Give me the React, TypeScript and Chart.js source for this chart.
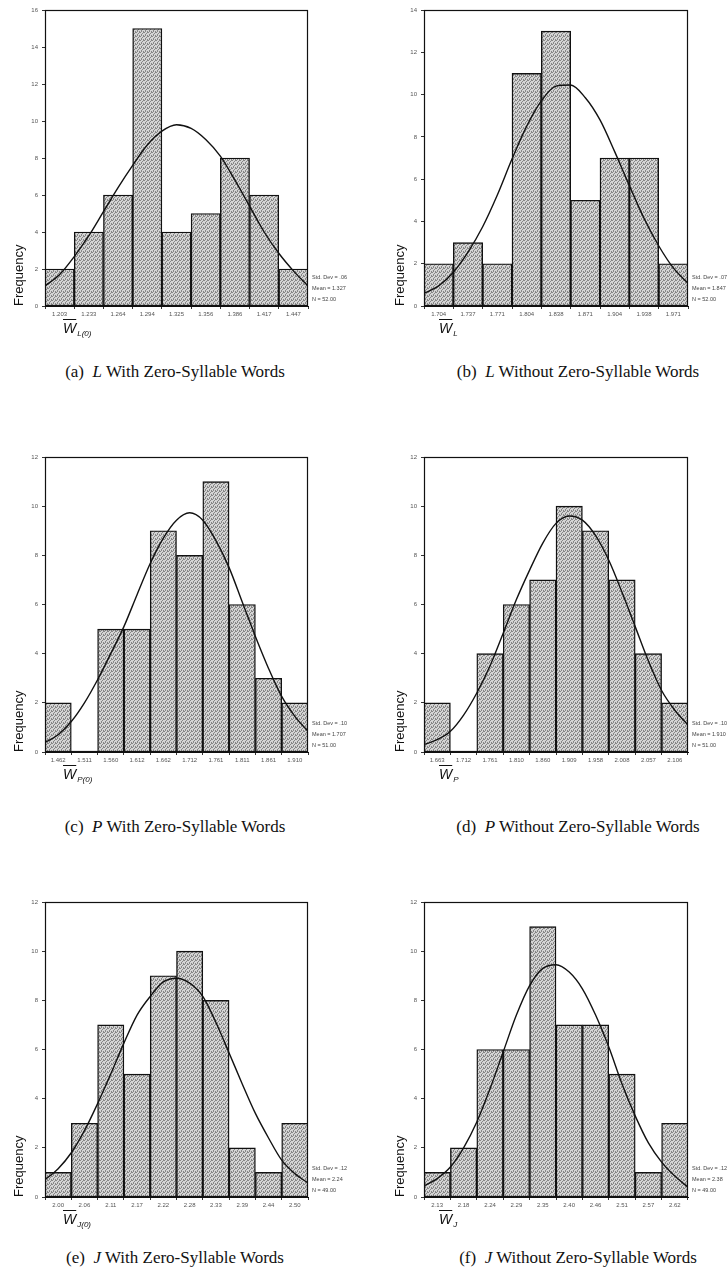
import React, { useEffect, useRef } from "react";
import { Chart, registerables } from "chart.js";

Chart.register(...registerables);

// ---------- Panel (a): L with zero-syllable words ----------
const aTickLabels = ["1.203", "1.233", "1.264", "1.294", "1.325", "1.356", "1.386", "1.417", "1.447"];
const aCounts = [2, 4, 6, 15, 4, 5, 8, 6, 2];
const aCurveX = [-0.5, 0, 0.5, 1, 1.5, 2, 2.5, 3, 3.5, 4, 4.5, 5, 5.5, 6, 6.5, 7, 7.5, 8, 8.5];
const aCurveY = [1.08, 1.7, 2.67, 3.8, 5.1, 6.4, 7.6, 8.7, 9.45, 9.8, 9.6, 9.0, 8.1, 6.8, 5.4, 4.0, 2.85, 1.9, 1.08];
const aStats = ["Std. Dev = .06", "Mean = 1.327", "N = 52.00"];

// ---------- Panel (b): L without zero-syllable words ----------
const bTickLabels = ["1.704", "1.737", "1.771", "1.804", "1.838", "1.871", "1.904", "1.938", "1.971"];
const bCounts = [2, 3, 2, 11, 13, 5, 7, 7, 2];
const bCurveX = [-0.5, 0, 0.5, 1, 1.5, 2, 2.5, 3, 3.5, 4, 4.5, 5, 5.5, 6, 6.5, 7, 7.5, 8, 8.5];
const bCurveY = [0.6, 0.95, 1.6, 2.55, 3.75, 5.25, 6.95, 8.5, 9.7, 10.4, 10.45, 9.85, 8.8, 7.3, 5.7, 4.15, 2.85, 1.8, 1.07];
const bStats = ["Std. Dev = .07", "Mean = 1.847", "N = 52.00"];

// ---------- Panel (c): P with zero-syllable words ----------
const cTickLabels = ["1.462", "1.511", "1.560", "1.612", "1.662", "1.712", "1.761", "1.811", "1.861", "1.910"];
const cCounts = [2, 0, 5, 5, 9, 8, 11, 6, 3, 2];
const cCurveX = [-0.5, 0, 0.5, 1, 1.5, 2, 2.5, 3, 3.5, 4, 4.5, 5, 5.5, 6, 6.5, 7, 7.5, 8, 8.5, 9, 9.5];
const cCurveY = [0.39, 0.7, 1.24, 2.0, 2.94, 4.0, 5.1, 6.4, 7.67, 8.7, 9.43, 9.73, 9.43, 8.6, 7.5, 6.1, 4.7, 3.4, 2.26, 1.45, 0.84];
const cStats = ["Std. Dev = .10", "Mean = 1.707", "N = 51.00"];

// ---------- Panel (d): P without zero-syllable words ----------
const dTickLabels = ["1.663", "1.712", "1.761", "1.810", "1.860", "1.909", "1.958", "2.008", "2.057", "2.106"];
const dCounts = [2, 0, 4, 6, 7, 10, 9, 7, 4, 2];
const dCurveX = [-0.5, 0, 0.5, 1, 1.5, 2, 2.5, 3, 3.5, 4, 4.5, 5, 5.5, 6, 6.5, 7, 7.5, 8, 8.5, 9, 9.5];
const dCurveY = [0.3, 0.5, 0.84, 1.5, 2.4, 3.5, 4.83, 6.2, 7.4, 8.5, 9.3, 9.6, 9.43, 8.8, 7.8, 6.5, 5.1, 3.7, 2.5, 1.7, 1.1];
const dStats = ["Std. Dev = .10", "Mean = 1.910", "N = 51.00"];

// ---------- Panel (e): J with zero-syllable words ----------
const eTickLabels = ["2.00", "2.06", "2.11", "2.17", "2.22", "2.28", "2.33", "2.39", "2.44", "2.50"];
const eCounts = [1, 3, 7, 5, 9, 10, 8, 2, 1, 3];
const eCurveX = [-0.5, 0, 0.5, 1, 1.5, 2, 2.5, 3, 3.5, 4, 4.5, 5, 5.5, 6, 6.5, 7, 7.5, 8, 8.5, 9, 9.5];
const eCurveY = [0.7, 1.15, 1.8, 2.7, 3.8, 5.0, 6.26, 7.4, 8.16, 8.75, 8.9, 8.7, 8.16, 7.1, 5.86, 4.6, 3.4, 2.4, 1.5, 0.95, 0.57];
const eStats = ["Std. Dev = .12", "Mean = 2.24", "N = 49.00"];

// ---------- Panel (f): J without zero-syllable words ----------
const fTickLabels = ["2.13", "2.18", "2.24", "2.29", "2.35", "2.40", "2.46", "2.51", "2.57", "2.62"];
const fCounts = [1, 2, 6, 6, 11, 7, 7, 5, 1, 3];
const fCurveX = [-0.5, 0, 0.5, 1, 1.5, 2, 2.5, 3, 3.5, 4, 4.5, 5, 5.5, 6, 6.5, 7, 7.5, 8, 8.5, 9, 9.5];
const fCurveY = [0.45, 0.75, 1.22, 2.0, 3.05, 4.4, 5.9, 7.4, 8.6, 9.3, 9.45, 9.15, 8.47, 7.4, 6.1, 4.6, 3.3, 2.2, 1.42, 0.85, 0.4];
const fStats = ["Std. Dev = .12", "Mean = 2.38", "N = 49.00"];

const yMaxes = [16, 14, 12, 12, 12, 12];

type PanelSpec = {
  id: string;
  col: 0 | 1;
  areaTop: number;
  areaBottom: number;
  ticks: string[];
  counts: number[];
  curveX: number[];
  curveY: number[];
  stats: string[];
  yMax: number;
  sub: string;
  letter: string;
  kind: string;
  captionY: number;
};

const panels: PanelSpec[] = [
  { id: "a", col: 0, areaTop: 10, areaBottom: 306, ticks: aTickLabels, counts: aCounts, curveX: aCurveX, curveY: aCurveY, stats: aStats, yMax: yMaxes[0], sub: "L(0)", letter: "L", kind: "With", captionY: 372 },
  { id: "b", col: 1, areaTop: 10, areaBottom: 306, ticks: bTickLabels, counts: bCounts, curveX: bCurveX, curveY: bCurveY, stats: bStats, yMax: yMaxes[1], sub: "L", letter: "L", kind: "Without", captionY: 372 },
  { id: "c", col: 0, areaTop: 457, areaBottom: 752, ticks: cTickLabels, counts: cCounts, curveX: cCurveX, curveY: cCurveY, stats: cStats, yMax: yMaxes[2], sub: "P(0)", letter: "P", kind: "With", captionY: 827 },
  { id: "d", col: 1, areaTop: 457, areaBottom: 752, ticks: dTickLabels, counts: dCounts, curveX: dCurveX, curveY: dCurveY, stats: dStats, yMax: yMaxes[3], sub: "P", letter: "P", kind: "Without", captionY: 827 },
  { id: "e", col: 0, areaTop: 902, areaBottom: 1197, ticks: eTickLabels, counts: eCounts, curveX: eCurveX, curveY: eCurveY, stats: eStats, yMax: yMaxes[4], sub: "J(0)", letter: "J", kind: "With", captionY: 1258 },
  { id: "f", col: 1, areaTop: 902, areaBottom: 1197, ticks: fTickLabels, counts: fCounts, curveX: fCurveX, curveY: fCurveY, stats: fStats, yMax: yMaxes[5], sub: "J", letter: "J", kind: "Without", captionY: 1258 },
];

const PAD_TOP = 10;
const X_AXIS_H = 14;
const PAD_BOTTOM = 6;
const SANS = "'Liberation Sans', Arial, sans-serif";
const SERIF = "'Liberation Serif', 'Times New Roman', serif";

function makeStipple(): CanvasPattern | string {
  const c = document.createElement("canvas");
  c.width = 4;
  c.height = 4;
  const g = c.getContext("2d");
  if (!g) return "#c0c0c0";
  g.fillStyle = "#d4d4d4";
  g.fillRect(0, 0, 4, 4);
  g.fillStyle = "#868686";
  const dots = [[0, 0], [2, 1], [1, 2], [3, 3], [3, 0], [1, 3]];
  dots.forEach(([x, y]) => g.fillRect(x, y, 1, 1));
  const p = g.createPattern(c, "repeat");
  return p || "#c0c0c0";
}

const framePlugin = {
  id: "frame",
  afterDraw(chart: any) {
    const { ctx, chartArea } = chart;
    ctx.save();
    ctx.strokeStyle = "#111";
    ctx.lineWidth = 1.2;
    ctx.strokeRect(chartArea.left + 0.5, chartArea.top + 0.5, chartArea.right - chartArea.left - 1, chartArea.bottom - chartArea.top - 1);
    ctx.restore();
  },
};

function Histogram({ p }: { p: PanelSpec }) {
  const ref = useRef<HTMLCanvasElement>(null);
  const colLeft = p.col === 0 ? 0 : 364;
  const yAxisW = p.col === 0 ? 45 : 60;
  const areaRight = p.col === 0 ? 308 : 688 - 364;
  const padRight = 364 - areaRight;
  const areaH = p.areaBottom - p.areaTop;
  const canvasH = PAD_TOP + areaH + X_AXIS_H + PAD_BOTTOM;
  const titlePad = p.col === 0 ? 12 : 29;

  useEffect(() => {
    if (!ref.current) return;
    const stipple = makeStipple();
    const n = p.counts.length;
    const chart = new Chart(ref.current, {
      type: "bar",
      data: {
        datasets: [
          {
            type: "line",
            data: p.curveX.map((x, i) => ({ x, y: p.curveY[i] })),
            borderColor: "#111",
            borderWidth: 1.4,
            pointRadius: 0,
            cubicInterpolationMode: "monotone",
            fill: false,
            order: 0,
          } as any,
          {
            type: "bar",
            data: p.counts.map((c, i) => ({ x: i, y: c })),
            backgroundColor: stipple as any,
            borderColor: "#111",
            borderWidth: 1.4,
            barPercentage: 1,
            categoryPercentage: 1,
            order: 1,
          } as any,
        ],
      },
      options: {
        animation: false,
        responsive: false,
        maintainAspectRatio: false,
        layout: { padding: { left: 0, top: PAD_TOP, right: padRight, bottom: PAD_BOTTOM } },
        plugins: { legend: { display: false }, tooltip: { enabled: false } },
        scales: {
          x: {
            type: "linear",
            min: -0.5,
            max: n - 0.5,
            offset: false,
            afterBuildTicks: (s: any) => {
              s.ticks = p.ticks.map((_, i) => ({ value: i }));
            },
            afterFit: (s: any) => {
              s.height = X_AXIS_H;
            },
            ticks: {
              autoSkip: false,
              maxRotation: 0,
              minRotation: 0,
              padding: 2,
              color: "#555",
              font: { size: 6, family: SANS },
              callback: (v: any) => p.ticks[Math.round(Number(v))] ?? "",
            },
            grid: { display: true, drawOnChartArea: false, tickLength: 3, color: "#333", lineWidth: 1 },
            border: { display: true, color: "#111", width: 1 },
          },
          y: {
            type: "linear",
            min: 0,
            max: p.yMax,
            afterFit: (s: any) => {
              s.width = yAxisW;
            },
            ticks: { stepSize: 2, padding: 4, color: "#555", font: { size: 6, family: SANS } },
            grid: { display: true, drawOnChartArea: false, tickLength: 3, color: "#333", lineWidth: 1 },
            border: { display: true, color: "#111", width: 1 },
            title: {
              display: true,
              text: "Frequency",
              align: "start",
              color: "#111",
              font: { size: 13, family: SANS },
              padding: { top: titlePad, bottom: 0 },
            },
          },
        },
      } as any,
      plugins: [framePlugin],
    });
    return () => chart.destroy();
  }, []);

  const wrapTop = p.areaTop - PAD_TOP;
  const localBottom = PAD_TOP + areaH;
  const statLeft = areaRight + 4;
  const wLeft = p.col === 0 ? 63 : 75;

  return (
    <div style={{ position: "absolute", left: colLeft, top: wrapTop, width: 364, height: canvasH + 40 }}>
      <canvas ref={ref} width={364} height={canvasH} style={{ position: "absolute", left: 0, top: 0, width: 364, height: canvasH }} />
      {p.stats.map((s, i) => (
        <div
          key={i}
          style={{
            position: "absolute",
            left: statLeft,
            top: localBottom - 32 + i * 11,
            fontFamily: SANS,
            fontSize: 5.5,
            lineHeight: "7px",
            color: "#444",
            whiteSpace: "nowrap",
          }}
        >
          {s}
        </div>
      ))}
      <div
        style={{
          position: "absolute",
          left: wLeft,
          top: localBottom + 14,
          fontFamily: SANS,
          fontSize: 14,
          lineHeight: "16px",
          color: "#111",
          whiteSpace: "nowrap",
        }}
      >
        <span style={{ fontStyle: "italic", textDecoration: "overline" }}>W</span>
        <span style={{ fontStyle: "italic", fontSize: 8, position: "relative", top: 3, marginLeft: 1 }}>{p.sub}</span>
      </div>
    </div>
  );
}

function Caption({ p }: { p: PanelSpec }) {
  const left = p.col === 0 ? 0 : 428;
  return (
    <div
      style={{
        position: "absolute",
        left,
        width: p.col === 0 ? 350 : 300,
        top: p.captionY - 11,
        textAlign: "center",
        fontFamily: SERIF,
        fontSize: 17,
        lineHeight: "22px",
        color: "#111",
        whiteSpace: "nowrap",
      }}
    >
      ({p.id})&nbsp; <span style={{ fontStyle: "italic" }}>{p.letter}</span> {p.kind} Zero-Syllable Words
    </div>
  );
}

export default function App() {
  return (
    <div style={{ position: "absolute", left: 0, top: 0, width: 728, height: 1284, background: "#fff", overflow: "hidden" }}>
      {panels.map((p) => (
        <Histogram key={p.id} p={p} />
      ))}
      {panels.map((p) => (
        <Caption key={"c" + p.id} p={p} />
      ))}
    </div>
  );
}
